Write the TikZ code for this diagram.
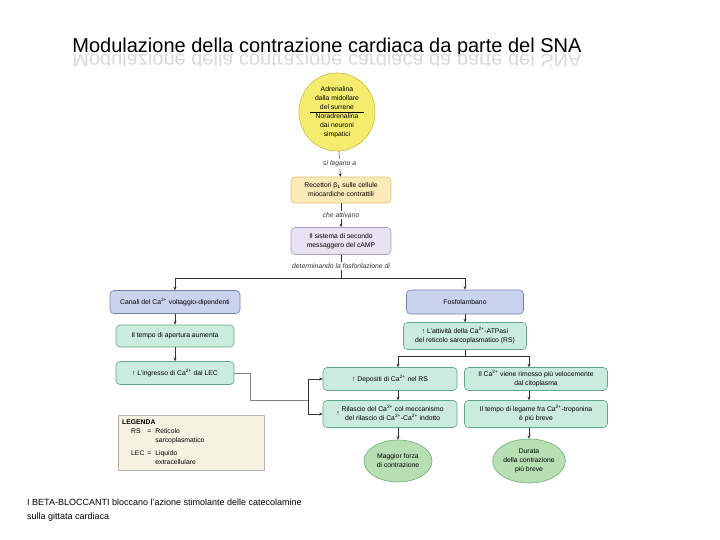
\documentclass[tikz,border=0pt]{standalone}
\usepackage{fontspec}
\setmainfont{Liberation Sans}
\usepackage{graphicx}
\usepackage{xcolor}
\usepackage{tikz}
\usetikzlibrary{positioning,arrows.meta,shapes.geometric}
\definecolor{kyel}{HTML}{C9B840}
\definecolor{kyelf}{HTML}{F5EC6E}
\definecolor{kora}{HTML}{DDBF6E}
\definecolor{koraf}{HTML}{FBEAB8}
\definecolor{klav}{HTML}{A99DCB}
\definecolor{klavf}{HTML}{E8E3F3}
\definecolor{kblu}{HTML}{7083AE}
\definecolor{kbluf}{HTML}{C9D3EE}
\definecolor{kgrn}{HTML}{5FA887}
\definecolor{kgrnf}{HTML}{CBEBDC}
\definecolor{kova}{HTML}{6DAF76}
\definecolor{kovaf}{HTML}{B7DFB3}
\definecolor{klegf}{HTML}{F6F2E1}

\begin{document}
\begin{tikzpicture}[x=1pt,y=-1pt,
  font=\fontsize{6.8}{9}\selectfont,
  kind/.style={draw=#1,fill=#1f,line width=0.6pt,rounded corners=4pt,inner sep=1pt,align=center},
  oval/.style={ellipse,draw=#1,fill=#1f,line width=0.6pt,inner sep=0pt,align=center},
  e/.style={-{Stealth[length=3.5pt,width=3pt]},color=black!80,line width=0.5pt},
  ln/.style={color=black!80,line width=0.5pt},
  lbl/.style={font=\fontsize{6.8}{9}\itshape,fill=white,inner sep=1.5pt}]
  \useasboundingbox (0,0) rectangle (720,540);
  % title and its mirror image
  \node[font=\fontsize{20}{22}\selectfont,anchor=base] (title) at (327,53) {Modulazione della contrazione cardiaca da parte del SNA};
  \begin{scope}
    \clip (0,55) rectangle (720,66);
    \node[font=\fontsize{20}{22}\selectfont,anchor=base,text=black!15] (mirror) at (327,55) {\scalebox{1}[-1]{Modulazione della contrazione cardiaca da parte del SNA}};
  \end{scope}
  % main chain
  \node[oval=kyel,minimum width=68pt,minimum height=78pt] (sna) at (337,112) {\begin{tabular}{@{\hspace{5pt}}c@{\hspace{5pt}}}Adrenalina\\dalla midollare\\del surrene\\\hline Noradrenalina\\dai neuroni\\simpatici\end{tabular}};
  \node[kind=kora,minimum width=100pt,minimum height=26pt] (rec) at (341,190) {Recettori β\textsubscript{1} sulle cellule\\miocardiche contrattili};
  \node[kind=klav,minimum width=100pt,minimum height=27pt] (camp) at (341,241) {Il sistema di secondo\\messaggero del cAMP};
  \coordinate (split) at (341,278);
  % left branch
  \node[kind=kblu,minimum width=130pt,minimum height=23pt] (canali) at (175,302) {Canali del Ca\textsuperscript{2+} voltaggio-dipendenti};
  \node[kind=kgrn,minimum width=118pt,minimum height=22pt] (tempo) at (175,336) {Il tempo di apertura aumenta};
  \node[kind=kgrn,minimum width=118pt,minimum height=23pt] (ingr) at (175,373) {↑ L'ingresso di Ca\textsuperscript{2+} dal LEC};
  % right branch
  \node[kind=kblu,minimum width=117pt,minimum height=24pt] (fosfo) at (465,302) {Fosfolambano};
  \node[kind=kgrn,minimum width=123pt,minimum height=27pt] (atp) at (465,336) {↑ L'attività della Ca\textsuperscript{2+}-ATPasi\\del reticolo sarcoplasmatico (RS)};
  \coordinate (split2) at (465,356);
  \coordinate (lc) at (398,356);
  \coordinate (rc) at (529,356);
  \node[kind=kgrn,minimum width=134pt,minimum height=23pt] (dep) at (390,379) {↑ Depositi di Ca\textsuperscript{2+} nel RS};
  \node[kind=kgrn,minimum width=143pt,minimum height=23pt] (rim) at (536,379) {Il Ca\textsuperscript{2+} viene rimosso più velocemente\\dal citoplasma};
  \node[kind=kgrn,minimum width=134pt,minimum height=27pt] (ril) at (390,414) {↑ \begin{tabular}{@{}c@{}}Rilascio del Ca\textsuperscript{2+} col meccanismo\\del rilascio di Ca\textsuperscript{2+}-Ca\textsuperscript{2+} indotto\end{tabular}};
  \node[kind=kgrn,minimum width=143pt,minimum height=27pt] (leg) at (536,414) {Il tempo di legame fra Ca\textsuperscript{2+}-troponina\\è più breve};
  \node[oval=kova,minimum width=68pt,minimum height=42pt] (forza) at (398,461) {Maggior forza\\di contrazione};
  \node[oval=kova,minimum width=70pt,minimum height=44pt] (durata) at (529,461) {Durata\\della contrazione\\più breve};
  \coordinate (jn) at (308,400);
  % legend and note
  \node[draw=black!30,fill=klegf,inner sep=3pt,anchor=north west] (legenda) at (118,415) {\begin{tabular}{@{\hspace{1pt}}l@{\hspace{3pt}}l@{\hspace{4pt}}l@{\hspace{57pt}}}
    \multicolumn{3}{@{\hspace{1pt}}l}{\textbf{LEGENDA}}\\
    \hspace{9pt}RS & = & Reticolo\\
     & & sarcoplasmatico\\[4pt]
    \hspace{9pt}LEC & = & Liquido\\
     & & extracellulare
  \end{tabular}};
  \node[anchor=north west,align=left,inner sep=0pt,font=\fontsize{9}{14}\selectfont] (note) at (27,499) {I BETA-BLOCCANTI bloccano l'azione stimolante delle catecolamine\\sulla gittata cardiaca};
  % connectors
  \draw[e] (sna) -- node[lbl]{si legano a} (rec);
  \draw[e] (rec) -- node[lbl]{che attivano} (camp);
  \draw[ln] (camp) -- node[lbl]{determinando la fosforilazione di} (split);
  \draw[e] (split) -| (canali);
  \draw[e] (split) -| (fosfo);
  \draw[e] (canali) -- (tempo);
  \draw[e] (tempo) -- (ingr);
  \draw[e] (fosfo) -- (atp);
  \draw[ln] (atp) -- (split2);
  \draw[e] (split2) -- (lc) -- (lc |- dep.north);
  \draw[e] (split2) -- (rc) -- (rc |- rim.north);
  \draw[e] (lc |- dep.south) -- (lc |- ril.north);
  \draw[e] (rc |- rim.south) -- (rc |- leg.north);
  \draw[e] (lc |- ril.south) -- (forza);
  \draw[e] (rc |- leg.south) -- (durata);
  \draw[ln,color=black!50] (ingr.east) -- ++(16,0) |- (jn);
  \draw[e] (jn) |- (dep.west);
  \draw[e] (jn) |- (ril.west);
\end{tikzpicture}
\end{document}
